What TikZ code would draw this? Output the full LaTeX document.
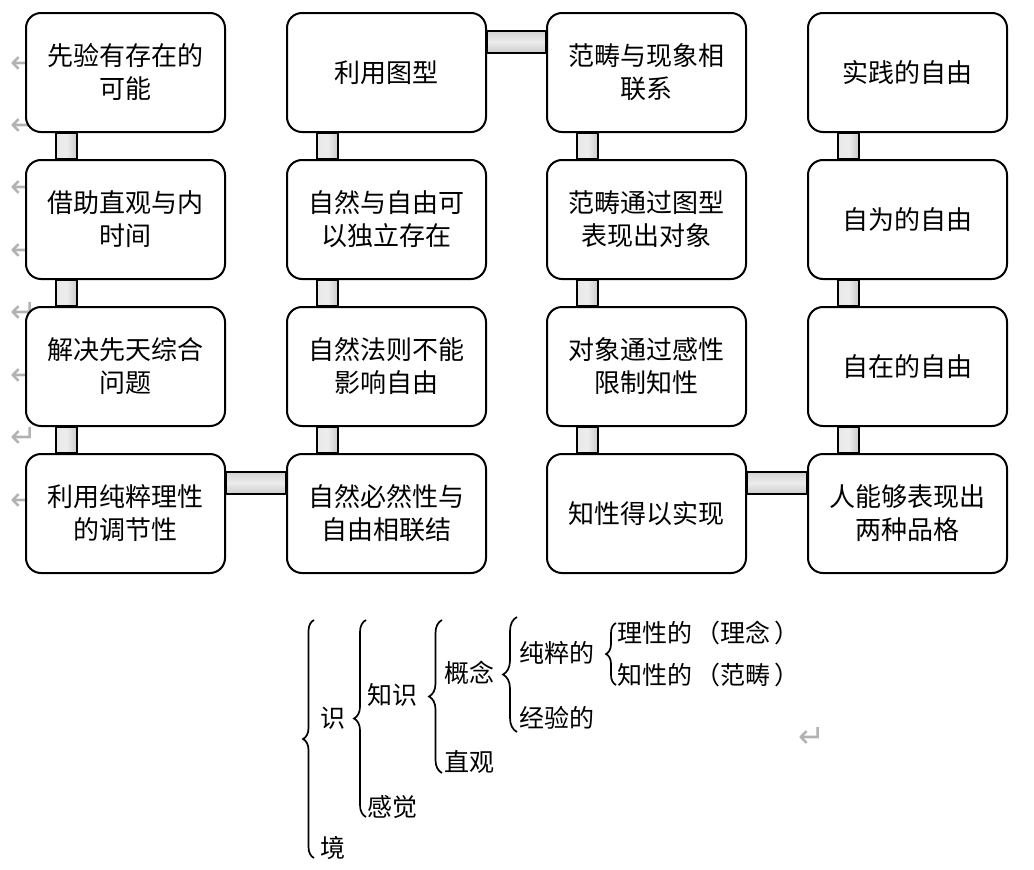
\documentclass[tikz,border=0pt]{standalone}
\usepackage{fontspec}
\setmainfont{Noto Sans CJK SC}
\newfontfamily\retfont{DejaVu Sans}
\usetikzlibrary{decorations.pathreplacing}
\pgfdeclarelayer{bg}
\pgfsetlayers{bg,main}
\tikzset{
  box/.style={draw, line width=2pt, rounded corners=15pt, fill=white,
    minimum width=199pt, minimum height=119pt, align=center,
    font=\fontsize{26}{33}\selectfont},
  vbar/.style={draw, line width=2pt, left color=gray!18, right color=gray!42, middle color=gray!14},
  hbar/.style={draw, line width=2pt, top color=gray!35, bottom color=gray!40, middle color=gray!15},
  item/.style={anchor=west, inner sep=0pt, font=\fontsize{25}{25}\selectfont},
  curly/.style={decorate, decoration={brace, amplitude=#1}, line width=1.7pt},
  pmark/.style={text=gray!60, inner sep=0pt, font=\retfont\fontsize{32}{32}\selectfont},
}

\begin{document}
\begin{tikzpicture}[x=1pt,y=-1pt]
                    \useasboundingbox (0,0) rectangle (1034,870);
                    \node[pmark] (m1) at (24,63) {↵};
                    \node[pmark] (m2) at (24,125) {↵};
                    \node[pmark] (m3) at (24,187) {↵};
                    \node[pmark] (m4) at (24,250) {↵};
                    \node[pmark] (m5) at (24,312) {↵};
                    \node[pmark] (m6) at (24,375) {↵};
                    \node[pmark] (m7) at (24,437) {↵};
                    \node[pmark] (m8) at (24,500) {↵};
                    \node[pmark] (m9) at (812,737) {↵};

                    \node[box] (b11) at (125.5,72.5) {先验有存在的\\可能};
                    \node[box] (b12) at (386.5,72.5) {利用图型};
                    \node[box] (b13) at (646.5,72.5) {范畴与现象相\\联系};
                    \node[box] (b14) at (907.5,72.5) {实践的自由};
                    \node[box] (b21) at (125.5,219.5) {借助直观与内\\时间};
                    \node[box] (b22) at (386.5,219.5) {自然与自由可\\以独立存在};
                    \node[box] (b23) at (646.5,219.5) {范畴通过图型\\表现出对象};
                    \node[box] (b24) at (907.5,219.5) {自为的自由};
                    \node[box] (b31) at (125.5,366.5) {解决先天综合\\问题};
                    \node[box] (b32) at (386.5,366.5) {自然法则不能\\影响自由};
                    \node[box] (b33) at (646.5,366.5) {对象通过感性\\限制知性};
                    \node[box] (b34) at (907.5,366.5) {自在的自由};
                    \node[box] (b41) at (125.5,513.5) {利用纯粹理性\\的调节性};
                    \node[box] (b42) at (386.5,513.5) {自然必然性与\\自由相联结};
                    \node[box] (b43) at (646.5,513.5) {知性得以实现};
                    \node[box] (b44) at (907.5,513.5) {人能够表现出\\两种品格};

                    \begin{pgfonlayer}{bg}
                    \foreach \c in {1,...,4}
                        \foreach \r/\s in {1/2,2/3,3/4}
                            \draw[vbar] ([xshift=31pt]b\r\c.south west) rectangle ([xshift=52pt]b\s\c.north west);
                    \draw[hbar] ([yshift=-19pt]b41.north east) rectangle ([yshift=-41pt]b42.north west);
                    \draw[hbar] ([yshift=-19pt]b12.north east) rectangle ([yshift=-41pt]b13.north west);
                    \draw[hbar] ([yshift=-19pt]b43.north east) rectangle ([yshift=-41pt]b44.north west);
                    \end{pgfonlayer}

                    \node[item] (shi) at (320,718) {识};
                    \node[item] (jing) at (320,848) {境};
                    \node[item] (zhishi) at (367,695) {知识};
                    \node[item] (ganjue) at (367,807) {感觉};
                    \node[item] (gainian) at (444,673) {概念};
                    \node[item] (zhiguan) at (444,762) {直观};
                    \node[item] (chuncui) at (519,653) {纯粹的};
                    \node[item] (jingyan) at (519,718) {经验的};
                    \node[item] (lixing) at (617,633) {理性的\hspace{3pt}（理念\hspace{4pt}）};
                    \node[item] (zhixing) at (617,675) {知性的\hspace{3pt}（范畴\hspace{4pt}）};

                    \coordinate (k1a) at (314,858); \coordinate (k1b) at (314,620);
                    \coordinate (k2a) at (366,817); \coordinate (k2b) at (366,620);
                    \coordinate (k3a) at (442,773); \coordinate (k3b) at (442,620);
                    \coordinate (k4a) at (517,732); \coordinate (k4b) at (517,617);
                    \coordinate (k5a) at (616,685); \coordinate (k5b) at (616,623);
                    \draw[curly=11pt] (k1a) -- (k1b);
                    \draw[curly=12pt] (k2a) -- (k2b);
                    \draw[curly=13pt] (k3a) -- (k3b);
                    \draw[curly=14pt] (k4a) -- (k4b);
                    \draw[curly=10pt] (k5a) -- (k5b);
                \end{tikzpicture}
\end{document}
